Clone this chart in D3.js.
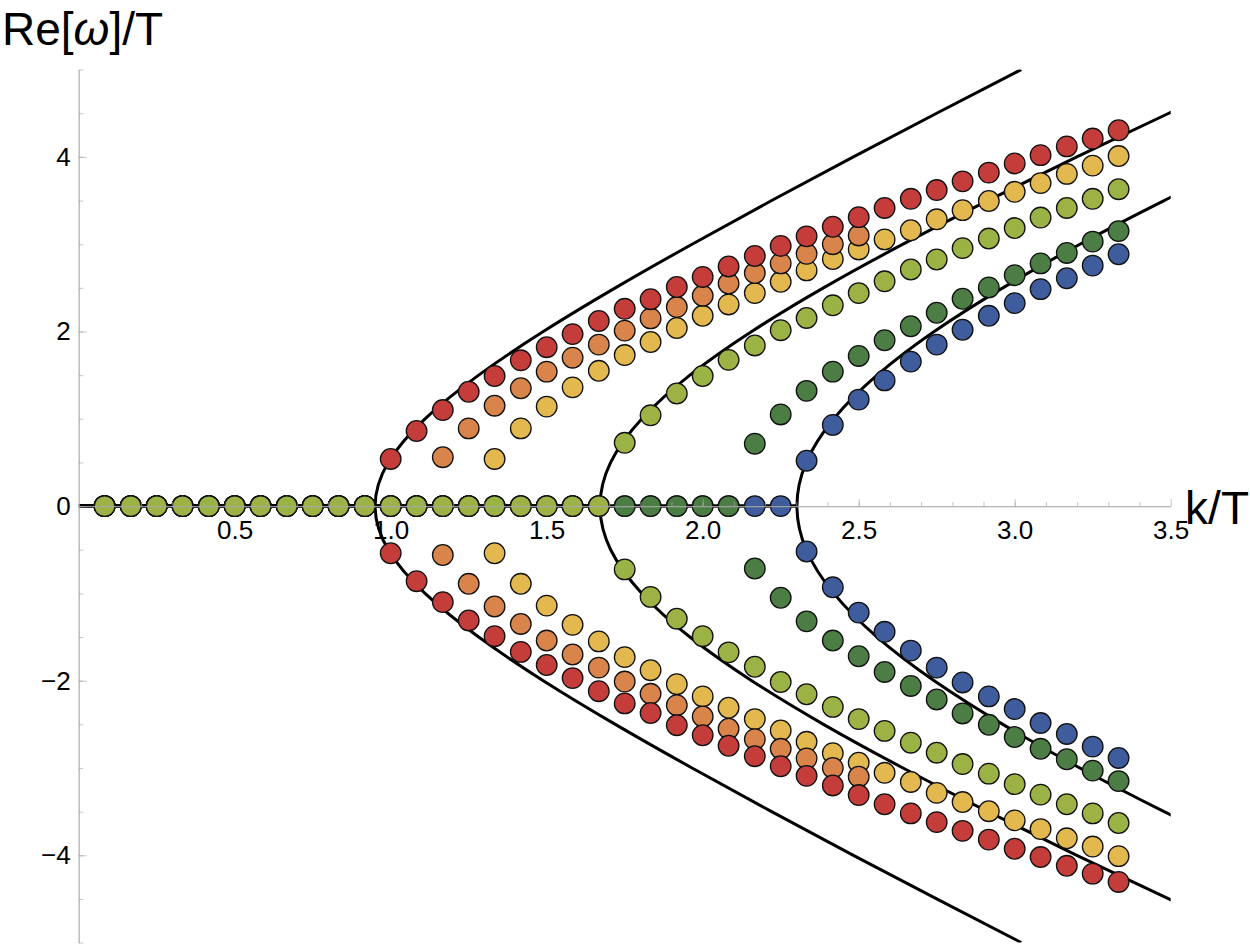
<!DOCTYPE html>
<html>
<head>
<meta charset="utf-8">
<script src="https://cdn.jsdelivr.net/npm/d3@7"></script>
<style>
  body { margin: 0; background: #fff; }
  svg { display: block; font-family: "Liberation Sans", Arial, Helvetica, sans-serif; }
</style>
</head>
<body>
<svg id="chart" width="1250" height="946"></svg>
<script>
// Momentum grid shared by all point series (k/T)
const kValues = [
  0.083, 0.167, 0.25, 0.333, 0.417, 0.5, 0.583, 0.667, 0.75, 0.833,
  0.917, 1.0, 1.083, 1.167, 1.25, 1.333, 1.417, 1.5, 1.583, 1.667,
  1.75, 1.833, 1.917, 2.0, 2.083, 2.167, 2.25, 2.333, 2.417, 2.5,
  2.583, 2.667, 2.75, 2.833, 2.917, 3.0, 3.083, 3.167, 3.25, 3.333
];

// |Re[w]/T| of each mode (plotted as +/- pair), 0 = on the axis, null = no point
const redModes = [
  0, 0, 0, 0, 0, 0, 0, 0, 0, 0,
  0, 0.54, 0.86, 1.10, 1.31, 1.49, 1.67, 1.82, 1.97, 2.12,
  2.26, 2.37, 2.51, 2.625, 2.745, 2.865, 2.98, 3.09, 3.20, 3.31,
  3.415, 3.52, 3.62, 3.72, 3.82, 3.925, 4.02, 4.12, 4.21, 4.305
];
const orangeModes = [
  0, 0, 0, 0, 0, 0, 0, 0, 0, 0,
  0, 0, 0, 0.56, 0.89, 1.15, 1.35, 1.54, 1.70, 1.85,
  2.01, 2.15, 2.28, 2.41, 2.55, 2.67, 2.78, 2.89, 3.00, 3.10,
  null, null, null, null, null, null, null, null, null, null
];
const yellowModes = [
  0, 0, 0, 0, 0, 0, 0, 0, 0, 0,
  0, 0, 0, 0, 0, 0.54, 0.89, 1.14, 1.36, 1.55,
  1.73, 1.88, 2.04, 2.18, 2.31, 2.44, 2.57, 2.70, 2.83, 2.94,
  3.055, 3.16, 3.285, 3.39, 3.495, 3.60, 3.70, 3.805, 3.90, 4.01
];
const oliveModes = [
  0, 0, 0, 0, 0, 0, 0, 0, 0, 0,
  0, 0, 0, 0, 0, 0, 0, 0, 0, 0,
  0.725, 1.04, 1.29, 1.49, 1.675, 1.84, 2.015, 2.155, 2.30, 2.44,
  2.575, 2.71, 2.825, 2.955, 3.065, 3.185, 3.305, 3.415, 3.52, 3.63
];
const greenModes = [
  0, 0, 0, 0, 0, 0, 0, 0, 0, 0,
  0, 0, 0, 0, 0, 0, 0, 0, 0, 0,
  0, 0, 0, 0, 0, 0.715, 1.05, 1.32, 1.54, 1.72,
  1.90, 2.06, 2.215, 2.375, 2.505, 2.645, 2.78, 2.90, 3.03, 3.15
];
const blueModes = [
  0, 0, 0, 0, 0, 0, 0, 0, 0, 0,
  0, 0, 0, 0, 0, 0, 0, 0, 0, 0,
  0, 0, 0, 0, 0, 0, 0, 0.52, 0.93, 1.22,
  1.44, 1.655, 1.85, 2.02, 2.18, 2.325, 2.485, 2.61, 2.755, 2.885
];

// Black reference curves, read as k/T at given Re[w]/T
const curveOmega = [-5, -4.5, -4, -3.5, -3, -2.5, -2, -1.5, -1, -0.5, 0,
                    0.5, 1, 1.5, 2, 2.5, 3, 3.5, 4, 4.5, 5];
const outerCurveK = [3.021, 2.750, 2.483, 2.221, 1.966, 1.720, 1.489, 1.282, 1.110, 0.992, 0.950,
                     0.992, 1.110, 1.282, 1.489, 1.720, 1.966, 2.221, 2.483, 2.750, 3.021];
const middleCurveK = [3.797, 3.494, 3.199, 2.914, 2.642, 2.387, 2.157, 1.959, 1.805, 1.705, 1.671,
                      1.705, 1.805, 1.959, 2.157, 2.387, 2.642, 2.914, 3.199, 3.494, 3.797];
const innerCurveK = [4.380, 4.068, 3.767, 3.479, 3.209, 2.962, 2.742, 2.559, 2.420, 2.332, 2.302,
                     2.332, 2.420, 2.559, 2.742, 2.962, 3.209, 3.479, 3.767, 4.068, 4.380];

// Tick labels
const xTickLabels = [0.5, 1.0, 1.5, 2.0, 2.5, 3.0, 3.5];
const yTickLabels = [-4, -2, 0, 2, 4];

// Series order for drawing off-axis points (later ones on top)
const series = [
  { name: "yellow", values: yellowModes, color: "#e3b94f" },
  { name: "orange", values: orangeModes, color: "#d8844b" },
  { name: "red", values: redModes, color: "#c53d3a" },
  { name: "blue", values: blueModes, color: "#3f5c9c" },
  { name: "green", values: greenModes, color: "#4b7d45" },
  { name: "olive", values: oliveModes, color: "#9db244" }
];
// Order for the points sitting on the axis
const axisOrder = ["red", "orange", "yellow", "blue", "green", "olive"];

const svg = d3.select("#chart");
const axisColor = "#a8a8a8";

const x = d3.scaleLinear().domain([0, 3.5]).range([78.7, 1170.7]);
const y = d3.scaleLinear().domain([-5, 5]).range([942.6, 69.6]);

// Axes (drawn twice: labels under the curves, lines over the points)
function drawAxes(withLabels) {
  const g = svg.append("g");

  g.append("g")
    .attr("transform", `translate(0,${y(0)})`)
    .call(d3.axisBottom(x).tickValues(d3.range(0.1, 3.45, 0.1))
      .tickSizeInner(-4).tickSizeOuter(0).tickFormat(""));
  g.append("g")
    .attr("transform", `translate(0,${y(0)})`)
    .call(d3.axisBottom(x).tickValues(xTickLabels)
      .tickSizeInner(-7).tickSizeOuter(0).tickPadding(14)
      .tickFormat(withLabels ? d3.format(".1f") : ""));

  g.append("g")
    .attr("transform", `translate(${x(0)},0)`)
    .call(d3.axisLeft(y).tickValues(d3.range(-5, 5.01, 0.5))
      .tickSizeInner(-4.5).tickSizeOuter(0).tickFormat(""));
  g.append("g")
    .attr("transform", `translate(${x(0)},0)`)
    .call(d3.axisLeft(y).tickValues(yTickLabels)
      .tickSizeInner(-8).tickSizeOuter(0).tickPadding(8)
      .tickFormat(withLabels ? d => (d < 0 ? "\u2212" + Math.abs(d) : d) : ""));

  g.selectAll(".domain").attr("stroke", axisColor).attr("stroke-width", 1.2);
  g.selectAll(".tick line").attr("stroke", axisColor).attr("stroke-width", 1.1);
  g.selectAll(".tick text")
    .attr("font-size", 26)
    .attr("font-family", "Liberation Sans, Arial, sans-serif")
    .attr("fill", "#000");

  if (!withLabels) {
    g.selectAll(".tick text").remove();
  }
  return g;
}

const labelAxes = drawAxes(true);
labelAxes.selectAll(".domain, .tick line").attr("stroke-opacity", 0);

// Clip region for the curves
svg.append("clipPath").attr("id", "plot-clip")
  .append("rect")
  .attr("x", x(0)).attr("y", y(5))
  .attr("width", x(3.5) - x(0)).attr("height", y(-5) - y(5));

const curveLine = d3.line()
  .x(d => x(d.k))
  .y(d => y(d.w))
  .curve(d3.curveNatural);
const straightLine = d3.line()
  .x(d => x(d.k))
  .y(d => y(d.w));

const curves = [outerCurveK, middleCurveK, innerCurveK];
const curveGroup = svg.append("g").attr("clip-path", "url(#plot-clip)");

curves.forEach(kArr => {
  const pts = curveOmega.map((w, i) => ({ k: kArr[i], w: w }));
  curveGroup.append("path")
    .attr("d", curveLine(pts))
    .attr("fill", "none")
    .attr("stroke", "#000")
    .attr("stroke-width", 3);

  // Re[w] = 0 branch below the threshold
  const kStart = kArr[curveOmega.indexOf(0)];
  curveGroup.append("path")
    .attr("d", straightLine([{ k: 0, w: 0 }, { k: kStart, w: 0 }]))
    .attr("fill", "none")
    .attr("stroke", "#000")
    .attr("stroke-width", 3.5);
});

// Points
const dotRadius = 10.3;
const dotGroup = svg.append("g");

function addDots(pts, color) {
  dotGroup.append("g").selectAll("circle")
    .data(pts)
    .enter()
    .append("circle")
    .attr("cx", d => x(d.k))
    .attr("cy", d => y(d.w))
    .attr("r", dotRadius)
    .attr("fill", color)
    .attr("stroke", "#111")
    .attr("stroke-width", 1.3);
}

series.forEach(s => {
  const pts = [];
  s.values.forEach((v, i) => {
    if (v === null || v === 0) return;
    pts.push({ k: kValues[i], w: v });
    pts.push({ k: kValues[i], w: -v });
  });
  addDots(pts, s.color);
});

axisOrder.forEach(name => {
  const s = series.find(obj => obj.name === name);
  const pts = [];
  s.values.forEach((v, i) => {
    if (v === 0) pts.push({ k: kValues[i], w: 0 });
  });
  addDots(pts, s.color);
});

// Axis lines and ticks on top of the points
const lineAxes = drawAxes(false);
lineAxes.selectAll(".domain, .tick line").attr("stroke-opacity", 0.6);

// Axis titles
const yTitle = svg.append("text")
  .attr("x", 2)
  .attr("y", 45)
  .attr("font-size", 46)
  .attr("fill", "#000");
yTitle.append("tspan").text("Re[");
yTitle.append("tspan").attr("font-style", "italic").text("\u03c9");
yTitle.append("tspan").text("]/T");

svg.append("text")
  .attr("x", 1249)
  .attr("y", 524)
  .attr("text-anchor", "end")
  .attr("font-size", 46)
  .attr("fill", "#000")
  .text("k/T");
</script>
</body>
</html>
